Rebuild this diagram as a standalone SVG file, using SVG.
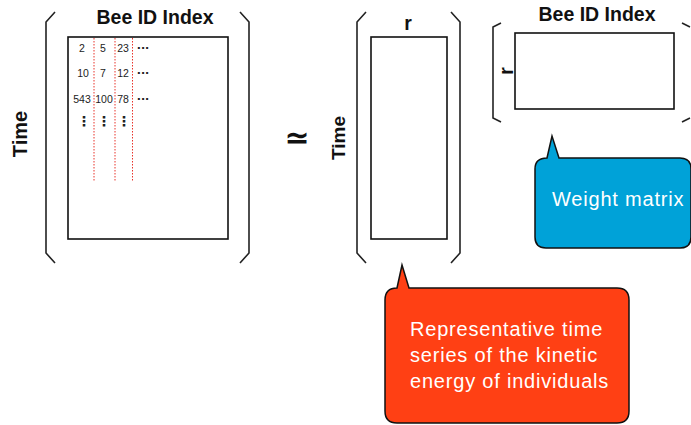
<svg xmlns="http://www.w3.org/2000/svg" width="691" height="425" viewBox="0 0 691 425">
<style>
.br{fill:none;stroke:#222;stroke-width:1.6}
.box{fill:#fff;stroke:#111;stroke-width:1.6}
.title{font-family:"Liberation Sans",Arial,sans-serif;font-weight:bold;font-size:19.5px;fill:#111}
.num{font-family:"Liberation Sans",Arial,sans-serif;font-size:10.5px;fill:#222;text-anchor:middle}
.dots{font-family:"DejaVu Sans",sans-serif;font-weight:bold;font-size:11px;fill:#222;text-anchor:middle}
.vdots{font-family:"DejaVu Sans",sans-serif;font-weight:bold;font-size:14px;fill:#222;text-anchor:middle}
.red{stroke:#e8332a;stroke-width:1;stroke-dasharray:1.5,1.5}
.bub{font-family:"Liberation Sans",Arial,sans-serif;font-size:20px;letter-spacing:0.8px;fill:#fff}
</style>
<rect width="691" height="425" fill="#fff"/>
<g id="data-matrix">
<path class="br" d="M55,12 L46,22 L46,253 L55,263"/>
<path class="br" d="M240,12 L249,22 L249,253 L240,263"/>
<rect class="box" x="68" y="37" width="160" height="202"/>
<text class="title" x="155" y="24" text-anchor="middle">Bee ID Index</text>
<text class="title" transform="translate(27,134) rotate(-90)" text-anchor="middle" style="font-size:20px">Time</text>
<line class="red" x1="94" y1="38" x2="94" y2="182"/>
<line class="red" x1="115" y1="38" x2="115" y2="182"/>
<line class="red" x1="132.5" y1="38" x2="132.5" y2="182"/>
<text class="num" x="82" y="52">2</text>
<text class="num" x="103" y="52">5</text>
<text class="num" x="123" y="52">23</text>
<text class="dots" x="143" y="52">···</text>
<text class="num" x="83" y="77">10</text>
<text class="num" x="103" y="77">7</text>
<text class="num" x="123" y="77">12</text>
<text class="dots" x="143" y="77">···</text>
<text class="num" x="82" y="103">543</text>
<text class="num" x="104" y="103">100</text>
<text class="num" x="123" y="103">78</text>
<text class="dots" x="143" y="103">···</text>
<text class="vdots" x="84" y="126">⋮</text>
<text class="vdots" x="104" y="126">⋮</text>
<text class="vdots" x="124" y="126">⋮</text>
</g>
<g id="approx">
<text x="297" y="148" text-anchor="middle" font-family="DejaVu Sans,sans-serif" font-weight="bold" font-size="30" fill="#111">≃</text>
</g>
<g id="time-series">
<path class="br" d="M366,12 L357,22 L357,253 L366,263"/>
<path class="br" d="M451,12 L460,22 L460,253 L451,263"/>
<rect class="box" x="371" y="37" width="76" height="202"/>
<text class="title" x="408" y="30" text-anchor="middle">r</text>
<text class="title" transform="translate(345,138) rotate(-90)" text-anchor="middle" style="font-size:19px">Time</text>
</g>
<g id="weight-matrix">
<path class="br" d="M501,23 L493,27 L493,118 L501,122"/>
<path class="br" d="M682,23 L690,27 M690,118 L682,122"/>
<rect class="box" x="515" y="33" width="159" height="76"/>
<text class="title" x="597" y="21" text-anchor="middle">Bee ID Index</text>
<text class="title" transform="translate(513,71) rotate(-90)" text-anchor="middle">r</text>
</g>
<g id="weight-bubble">
<path d="M547,158 L552,136 L559,158 L680,158 Q691,158 691,169 L691,237 Q691,248 680,248 L546,248 Q535,248 535,237 L535,169 Q535,158 547,158 Z" fill="#00a2d8" stroke="#111" stroke-width="1.5"/>
<text class="bub" x="552" y="206">Weight matrix</text>
</g>
<g id="ts-bubble">
<path d="M397,288 L402,265 L409,288 L617,288 Q629,288 629,300 L629,411 Q629,423 617,423 L397,423 Q385,423 385,411 L385,300 Q385,288 397,288 Z" fill="#ff4014" stroke="#111" stroke-width="1.5"/>
<text class="bub" x="410" y="336">Representative time</text>
<text class="bub" x="410" y="362">series of the kinetic</text>
<text class="bub" x="410" y="388">energy of individuals</text>
</g>
<g id="connectors"></g>
</svg>
